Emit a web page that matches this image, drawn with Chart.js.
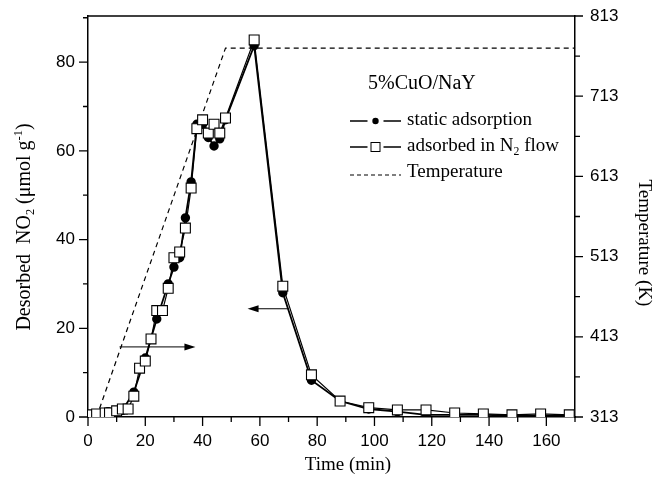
<!DOCTYPE html>
<html>
<head>
<meta charset="utf-8">
<script src="https://cdn.jsdelivr.net/npm/chart.js@4"></script>
<style>
  html, body { margin: 0; padding: 0; background: #fff; }
  #wrap { width: 656px; height: 477px; }
</style>
</head>
<body>
<div id="wrap"><canvas id="chart" width="656" height="477"></canvas></div>
<script>
// static adsorption (filled circles)
const staticTime = [1, 3, 7, 10, 12, 16, 20, 24, 28, 30, 32, 34, 36, 38, 40, 42, 44, 46, 48, 58, 68, 78, 88, 98, 108, 118, 128, 138, 148, 158, 168];
const staticNO2  = [0.3, 0.5, 1.2, 1.0, 1.5, 5.6, 13.3, 22.1, 30, 33.8, 35.9, 44.9, 53, 66, 66, 63, 61.1, 62.7, 67, 83.7, 28, 8.3, 3.6, 1.8, 1.2, 0.5, 0.5, 0.5, 0.3, 0.3, 0.3];

// adsorbed in N2 flow (open squares)
const flowTime = [1, 3, 6, 7.5, 10, 12, 14, 16, 18, 20, 22, 24, 26, 28, 30, 32, 34, 36, 38, 40, 42, 44, 46, 48, 58, 68, 78, 88, 98, 108, 118, 128, 138, 148, 158, 168];
const flowNO2  = [0.5, 0.7, 0.9, 0.9, 1.4, 1.8, 1.8, 4.7, 11, 12.6, 17.6, 24, 24, 29, 35.9, 37.2, 42.6, 51.6, 65, 67, 64, 66, 64, 67.4, 85, 29.5, 9.5, 3.6, 2.1, 1.6, 1.6, 0.9, 0.7, 0.5, 0.7, 0.5];

// temperature program (right axis)
const tempTime = [3, 48, 170];
const tempK    = [313, 773, 773];

// axis ticks
const xTicks = [0, 20, 40, 60, 80, 100, 120, 140, 160];
const yTicks = [0, 20, 40, 60, 80];
const y2Ticks = [313, 413, 513, 613, 713, 813];

// arrows telling which axis each curve uses: [t0, t1, value]
const arrowRight = [11, 37.5, 15.8];
const arrowLeft  = [70, 55.7, 24.4];

const pts = (xs, ys) => xs.map((x, i) => ({ x: x, y: ys[i] }));

const serif = '"Liberation Serif", "Times New Roman", serif';
const sans = '"Liberation Sans", Arial, sans-serif';

// draws text runs with sub/superscripts, centred on (cx, cy), optionally rotated
function richText(ctx, runs, cx, cy, size, angle, align) {
    ctx.save();
    ctx.translate(cx, cy);
    ctx.rotate(angle || 0);
    ctx.textBaseline = 'middle';
    ctx.textAlign = 'left';
    let total = 0;
    runs.forEach(r => {
        ctx.font = (r.sub || r.sup ? size * 0.62 : size) + 'px ' + serif;
        r.w = ctx.measureText(r.t).width;
        total += r.w;
    });
    let x = align === 'left' ? 0 : -total / 2;
    runs.forEach(r => {
        ctx.font = (r.sub || r.sup ? size * 0.62 : size) + 'px ' + serif;
        const dy = r.sub ? size * 0.3 : (r.sup ? -size * 0.32 : 0);
        ctx.fillText(r.t, x, dy);
        x += r.w;
    });
    ctx.restore();
}

const decorPlugin = {
    id: 'decor',
    afterDraw(chart) {
        const ctx = chart.ctx;
        const a = chart.chartArea;
        const sx = chart.scales.x, sy = chart.scales.y, sy2 = chart.scales.y2;
        ctx.save();
        ctx.strokeStyle = '#000';
        ctx.fillStyle = '#000';
        ctx.lineWidth = 1.5;
        // frame top
        ctx.beginPath();
        ctx.moveTo(a.left, a.top); ctx.lineTo(a.right, a.top);
        ctx.stroke();

        // ticks (major longer than minor), pointing outward
        ctx.lineWidth = 1.3;
        ctx.beginPath();
        for (let v = 0; v <= 170; v += 10) {
            const p = sx.getPixelForValue(v);
            const len = v % 20 === 0 ? 9 : 5;
            ctx.moveTo(p, a.bottom); ctx.lineTo(p, a.bottom + len);
        }
        for (let v = 0; v <= 90; v += 10) {
            const p = sy.getPixelForValue(v);
            const len = v % 20 === 0 ? 9 : 5;
            ctx.moveTo(a.left, p); ctx.lineTo(a.left - len, p);
        }
        for (let v = 313; v <= 813; v += 50) {
            const p = sy2.getPixelForValue(v);
            const len = (v - 313) % 100 === 0 ? 8 : 5;
            ctx.moveTo(a.right, p); ctx.lineTo(a.right + len, p);
        }
        ctx.stroke();

        // arrows
        const arrow = (t0, t1, v) => {
            const x0 = sx.getPixelForValue(t0), x1 = sx.getPixelForValue(t1);
            const y = sy.getPixelForValue(v);
            const dir = Math.sign(x1 - x0);
            ctx.lineWidth = 1;
            ctx.beginPath();
            ctx.moveTo(x0, y); ctx.lineTo(x1 - dir * 8, y);
            ctx.stroke();
            ctx.beginPath();
            ctx.moveTo(x1, y);
            ctx.lineTo(x1 - dir * 11, y - 3.5);
            ctx.lineTo(x1 - dir * 11, y + 3.5);
            ctx.closePath();
            ctx.fill();
        };
        arrow(arrowRight[0], arrowRight[1], arrowRight[2]);
        arrow(arrowLeft[0], arrowLeft[1], arrowLeft[2]);

        // axis titles
        richText(ctx, [{ t: 'Desorbed  NO' }, { t: '2', sub: true }, { t: ' (\u03bcmol g' }, { t: '-1', sup: true }, { t: ')' }],
            25, 227, 20, -Math.PI / 2);
        richText(ctx, [{ t: 'Temperature (K)' }], 644, 243, 19, Math.PI / 2);
        richText(ctx, [{ t: 'Time (min)' }], 348, 465, 19, 0);

        // legend
        richText(ctx, [{ t: '5%CuO/NaY' }], 368, 84, 20, 0, 'left');
        const lx0 = 350, lx1 = 401, tx = 407;
        const lm = (lx0 + lx1) / 2;
        ctx.lineWidth = 1.4;
        // static adsorption
        ctx.beginPath();
        ctx.moveTo(lx0, 121); ctx.lineTo(lm - 8, 121);
        ctx.moveTo(lm + 8, 121); ctx.lineTo(lx1, 121);
        ctx.stroke();
        ctx.beginPath();
        ctx.arc(lm, 121, 3.2, 0, Math.PI * 2);
        ctx.fill();
        richText(ctx, [{ t: 'static adsorption' }], tx, 120, 19, 0, 'left');
        // N2 flow
        ctx.beginPath();
        ctx.moveTo(lx0, 147); ctx.lineTo(lm - 8, 147);
        ctx.moveTo(lm + 8, 147); ctx.lineTo(lx1, 147);
        ctx.stroke();
        ctx.lineWidth = 1;
        ctx.strokeRect(lm - 4.5, 142.5, 9, 9);
        richText(ctx, [{ t: 'adsorbed in N' }, { t: '2', sub: true }, { t: ' flow' }], tx, 146, 19, 0, 'left');
        // temperature
        ctx.lineWidth = 1.2;
        ctx.setLineDash([4, 3]);
        ctx.beginPath();
        ctx.moveTo(lx0, 175); ctx.lineTo(lx1, 175);
        ctx.stroke();
        ctx.setLineDash([]);
        richText(ctx, [{ t: 'Temperature' }], tx, 172, 19, 0, 'left');
        ctx.restore();
    }
};

const fixV = w => s => { s.width = w; s.paddingTop = 0; s.paddingBottom = 0; };

new Chart(document.getElementById('chart').getContext('2d'), {
    type: 'scatter',
    data: {
        datasets: [
            {
                label: 'adsorbed in N2 flow',
                data: pts(flowTime, flowNO2),
                yAxisID: 'y',
                showLine: true,
                borderColor: '#000',
                borderWidth: 1.2,
                pointStyle: 'rect',
                pointRadius: 7,
                pointBackgroundColor: '#fff',
                pointBorderColor: '#000',
                pointBorderWidth: 1.1,
                order: 0
            },
            {
                label: 'static adsorption',
                data: pts(staticTime, staticNO2),
                yAxisID: 'y',
                showLine: true,
                borderColor: '#000',
                borderWidth: 1.8,
                pointStyle: 'circle',
                pointRadius: 3.8,
                pointBackgroundColor: '#000',
                pointBorderColor: '#000',
                order: 1
            },
            {
                label: 'Temperature',
                data: pts(tempTime, tempK),
                yAxisID: 'y2',
                showLine: true,
                borderColor: '#000',
                borderWidth: 1.2,
                borderDash: [5, 4],
                pointRadius: 0,
                order: 2
            }
        ]
    },
    options: {
        responsive: false,
        animation: false,
        layout: { padding: { top: 16, left: 0, right: 0, bottom: 0 } },
        plugins: { legend: { display: false }, tooltip: { enabled: false } },
        scales: {
            x: {
                type: 'linear', min: 0, max: 170,
                afterBuildTicks: s => { s.ticks = xTicks.map(v => ({ value: v })); },
                afterFit: s => { s.height = 60; s.paddingLeft = 0; s.paddingRight = 0; },
                grid: { display: false, drawTicks: false },
                border: { display: true, color: '#000', width: 1.5 },
                ticks: { color: '#000', font: { family: sans, size: 17 }, padding: 14, maxRotation: 0 }
            },
            y: {
                type: 'linear', position: 'left', min: 0, max: 90.4,
                afterBuildTicks: s => { s.ticks = yTicks.map(v => ({ value: v })); },
                afterFit: fixV(88),
                grid: { display: false, drawTicks: false },
                border: { display: true, color: '#000', width: 1.5 },
                ticks: { color: '#000', font: { family: sans, size: 17 }, padding: 13 }
            },
            y2: {
                type: 'linear', position: 'right', min: 313, max: 813,
                afterBuildTicks: s => { s.ticks = y2Ticks.map(v => ({ value: v })); },
                afterFit: fixV(81),
                grid: { display: false, drawTicks: false },
                border: { display: true, color: '#000', width: 1.5 },
                ticks: { color: '#000', font: { family: sans, size: 17 }, padding: 15 }
            }
        }
    },
    plugins: [decorPlugin]
});
</script>
</body>
</html>
